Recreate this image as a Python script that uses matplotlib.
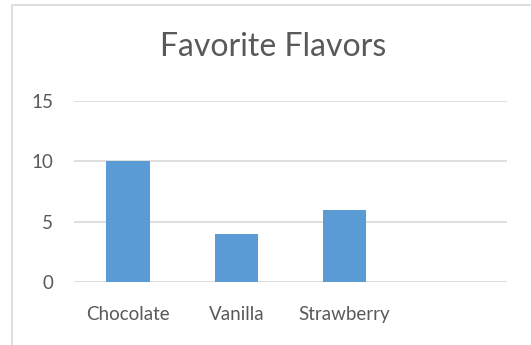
import matplotlib
matplotlib.use("Agg")
import matplotlib.pyplot as plt
from matplotlib.patches import Rectangle

flavors = ["Chocolate", "Vanilla", "Strawberry", ""]
votes = [10, 4, 6, None]
yticks = [0, 5, 10, 15]

W, H = 531, 345
fig = plt.figure(figsize=(W / 100, H / 100), dpi=100)
fig.patch.set_facecolor("white")

# chart border (only left/top visible in the crop)
fig.patches.append(Rectangle((12 / W, -0.1), 1.2, (H - 5) / H + 0.1, transform=fig.transFigure,
                             fill=False, edgecolor="#d9d9d9", linewidth=1.2))

ax = fig.add_axes([74 / W, 63 / H, (507 - 74) / W, (282 - 101) / H])
xs = list(range(len(flavors)))
ax.bar([x for x, v in zip(xs, votes) if v is not None],
       [v for v in votes if v is not None], width=0.4, color="#5b9bd5", zorder=3)
ax.set_xlim(-0.5, len(flavors) - 0.5)
ax.set_ylim(0, 15)
ax.set_yticks(yticks)
ax.set_xticks(xs)
ax.set_xticklabels(flavors)
ax.grid(axis="y", color="#d9d9d9", linewidth=1.2, zorder=0)
for s in ax.spines.values():
    s.set_visible(False)
ax.tick_params(length=0, labelsize=13.5, colors="#595959")
ax.tick_params(axis="x", pad=17)
ax.tick_params(axis="y", pad=15)
for lab in ax.get_xticklabels() + ax.get_yticklabels():
    lab.set_family("Lato")

fig.text(273 / W, 1 - 47 / H, "Favorite Flavors", ha="center", va="center",
         fontsize=23, color="#595959", family="Lato")

fig.savefig("out.png", dpi=100)
